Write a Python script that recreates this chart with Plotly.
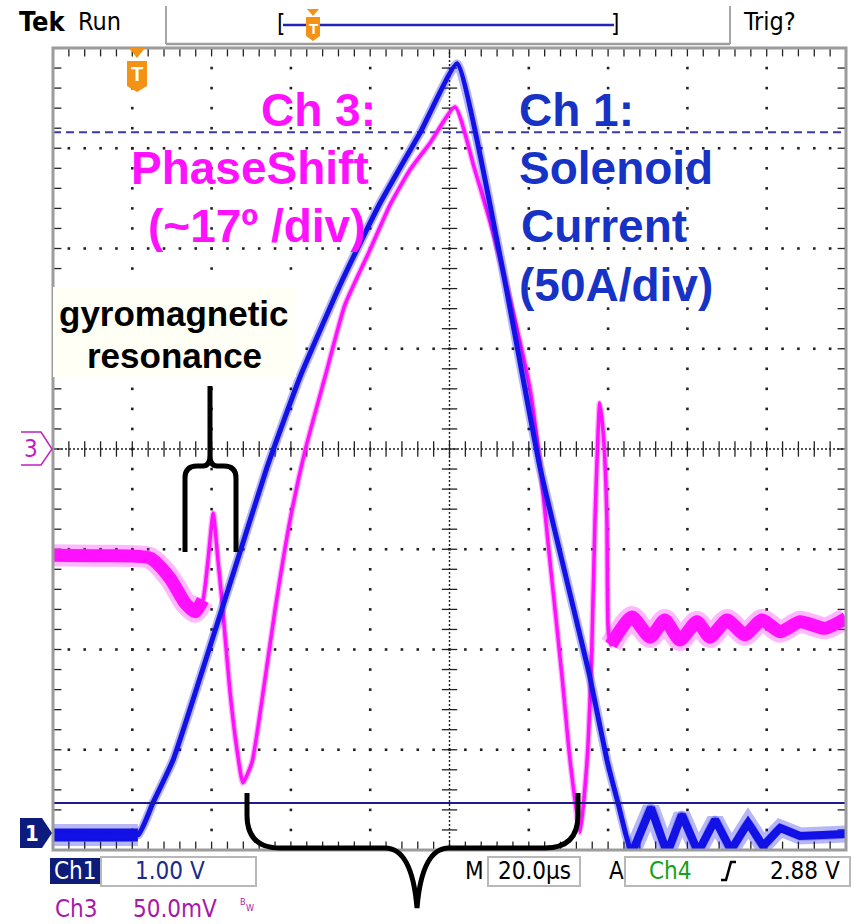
import numpy as np
import plotly.graph_objects as go

# ---------------- data ----------------
# time axis: 20 us/div, 10 divisions
ch1_time_us = [0, 21.4, 25.2, 30.3, 43.9, 54.0, 62.3, 72.4, 78.7, 82.5, 87.5, 92.6, 101.9,
               112.7, 122.8, 135.4, 139.7, 142.5, 146.0, 150.8, 154.9, 158.6, 162.7, 167.0,
               171.0, 175.3, 179.1, 183.4, 188.4, 200]
# Ch1 solenoid current, 50 A/div
ch1_current_A = [-1.5, -1.5, 14.5, 35.9, 119.2, 182.0, 226.9, 272.8, 298.7, 313.7, 331.2, 348.7,
                 383.1, 287.8, 182.0, 77.3, 35.9, 14.5, -10.5, 12.0, -10.5, 8.5, -10.0, 6.0,
                 -9.0, 4.5, -7.0, 2.0, -2.0, -1.0]

ch3_time_us = [0, 11.9, 24.5, 29.5, 33.3, 35.8, 37.8, 39.1, 40.4, 41.6, 42.6, 44.6, 46.4, 47.9,
               50.2, 52.7, 56.0, 59.8, 63.6, 68.6, 73.6, 79.9, 85.0, 90.0, 95.1, 101.4, 106.4,
               111.5, 116.5, 120.3, 122.8, 125.3, 128.4, 130.4, 132.9, 134.7, 135.9, 136.7,
               137.9, 138.9, 139.7, 140.0, 140.7, 146.0, 150.6, 154.3, 158.1, 162.4, 165.7,
               170.0, 174.5, 178.8, 183.4, 188.4, 194.7, 200]
# Ch3 phase shift, ~17 deg/div
ch3_phase_deg = [-18.0, -18.1, -18.5, -21.9, -26.1, -27.6, -25.6, -18.8, -10.9, -18.8, -25.6,
                 -40.9, -51.0, -56.6, -53.1, -42.6, -27.3, -12.0, -0.2, 12.2, 24.4, 33.7, 41.4,
                 47.3, 51.9, 58.0, 47.3, 35.4, 21.9, 10.2, -2.4, -18.8, -38.7, -52.8, -65.0,
                 -52.8, -33.6, -12.0, 7.8, 1.5, -12.0, -30.2, -33.2, -28.5, -31.9, -29.0,
                 -32.4, -29.3, -31.9, -29.0, -31.5, -29.0, -31.0, -29.3, -30.4, -28.7]

CH1_SCALE, CH1_OFFSET = 50.0, -3.82   # A/div, ground marker position (div)
CH3_SCALE, CH3_OFFSET = 17.0, 0.0     # deg/div
CH1_LEVEL_DIV = 3.16                  # dashed level line
CH1_REF_DIV = -3.53                   # solid reference line

# ---------------- geometry ----------------
W, H = 854, 924
L, R, T, B = 53, 846, 48, 850


def X(px):
    return (px - L) / (R - L)


def Y(py):
    return (B - py) / (B - T)


def pt(px, py):
    return f"{X(px):.5f},{Y(py):.5f}"


ch1_y = [a / CH1_SCALE + CH1_OFFSET for a in ch1_current_A]
ch3_y = [p / CH3_SCALE + CH3_OFFSET for p in ch3_phase_deg]

BLUE = "#1212e6"
MAG = "#ff10ff"

fig = go.Figure()

# ---------------- graticule ----------------
minor_y = np.round(np.arange(-4, 4.001, 0.2), 3)
minor_x = np.round(np.arange(0, 200.001, 4), 3)
gx, gy = [], []
for k in range(1, 10):
    if k == 5:
        continue
    for yy in minor_y:
        gx.append(20 * k); gy.append(yy)
for k in range(-3, 4):
    if k == 0:
        continue
    for xx in minor_x:
        gx.append(xx); gy.append(k)
fig.add_trace(go.Scatter(x=gx, y=gy, mode="markers", hoverinfo="skip",
                         marker=dict(size=2.6, color="#222222", symbol="square")))
# center-line ticks
fig.add_trace(go.Scatter(x=list(minor_x), y=[0] * len(minor_x), mode="markers", hoverinfo="skip",
                         marker=dict(symbol="line-ns", size=11, line=dict(width=1.3, color="#222"))))
fig.add_trace(go.Scatter(x=[100] * len(minor_y), y=list(minor_y), mode="markers", hoverinfo="skip",
                         marker=dict(symbol="line-ew", size=11, line=dict(width=1.3, color="#222"))))
# edge ticks
fig.add_trace(go.Scatter(x=[0] * len(minor_y) + [200] * len(minor_y), y=list(minor_y) * 2,
                         mode="markers", hoverinfo="skip",
                         marker=dict(symbol="line-ew", size=12, line=dict(width=1.3, color="#222"))))
fig.add_trace(go.Scatter(x=list(minor_x) * 2, y=[4] * len(minor_x) + [-4] * len(minor_x),
                         mode="markers", hoverinfo="skip",
                         marker=dict(symbol="line-ns", size=12, line=dict(width=1.3, color="#222"))))

# ---------------- waveforms ----------------
def sub(ts, ys, lo, hi):
    xs = [t for t in ts if lo <= t <= hi]
    yv = [y for t, y in zip(ts, ys) if lo <= t <= hi]
    return xs, yv

# Ch3 noise bands
for lo, hi in [(0, 37.8), (140.7, 200)]:
    xs, ys = sub(ch3_time_us, ch3_y, lo, hi)
    fig.add_trace(go.Scatter(x=xs, y=ys, mode="lines", hoverinfo="skip", opacity=0.3,
                             line=dict(color=MAG, width=22, shape="spline", smoothing=0.6)))
    fig.add_trace(go.Scatter(x=xs, y=ys, mode="lines", hoverinfo="skip",
                             line=dict(color=MAG, width=13, shape="spline", smoothing=0.6)))
fig.add_trace(go.Scatter(x=ch3_time_us, y=ch3_y, mode="lines", hoverinfo="skip", opacity=0.35,
                         line=dict(color=MAG, width=6, shape="spline", smoothing=0.5)))
fig.add_trace(go.Scatter(x=ch3_time_us, y=ch3_y, mode="lines", hoverinfo="skip",
                         line=dict(color=MAG, width=3.5, shape="spline", smoothing=0.5)))

# Ch1 noise bands
for lo, hi, w in [(0, 21.4, 13), (146.0, 200, 8)]:
    xs, ys = sub(ch1_time_us, ch1_y, lo, hi)
    fig.add_trace(go.Scatter(x=xs, y=ys, mode="lines", hoverinfo="skip", opacity=0.3,
                             line=dict(color=BLUE, width=w + 9)))
    fig.add_trace(go.Scatter(x=xs, y=ys, mode="lines", hoverinfo="skip",
                             line=dict(color=BLUE, width=w)))
fig.add_trace(go.Scatter(x=ch1_time_us, y=ch1_y, mode="lines", hoverinfo="skip", opacity=0.3,
                         line=dict(color=BLUE, width=9, shape="spline", smoothing=0.4)))
fig.add_trace(go.Scatter(x=ch1_time_us, y=ch1_y, mode="lines", hoverinfo="skip",
                         line=dict(color=BLUE, width=5, shape="spline", smoothing=0.4)))

shapes = []
# center dotted lines
shapes.append(dict(type="line", xref="x", yref="y", x0=0, x1=200, y0=0, y1=0, layer="below",
                   line=dict(color="#222", width=1.4, dash="2px,2px")))
shapes.append(dict(type="line", xref="x", yref="y", x0=100, x1=100, y0=-4, y1=4, layer="below",
                   line=dict(color="#222", width=1.4, dash="2px,2px")))
# trigger level dashed line and reference line
shapes.append(dict(type="line", xref="x", yref="y", x0=0, x1=200, y0=CH1_LEVEL_DIV, y1=CH1_LEVEL_DIV,
                   layer="below", line=dict(color="#3a3aa8", width=2, dash="8px,5px")))
shapes.append(dict(type="line", xref="x", yref="y", x0=0, x1=200, y0=CH1_REF_DIV, y1=CH1_REF_DIV,
                   layer="above", line=dict(color="#1c1c8c", width=2)))
# border
shapes.append(dict(type="rect", xref="paper", yref="paper", x0=0, x1=1, y0=0, y1=1, layer="above",
                   line=dict(color="#9c9c9c", width=3)))

# gyromagnetic label box
shapes.append(dict(type="rect", xref="paper", yref="paper", x0=X(53), x1=X(296), y0=Y(377), y1=Y(287),
                   layer="above", fillcolor="#fffff6", line=dict(width=0)))

# braces
gyro_path = (f"M{pt(185,552)} L{pt(185,478)} Q{pt(185,466)} {pt(197,466)} L{pt(203,466)} "
             f"Q{pt(210,466)} {pt(210,455)} L{pt(210,386)} "
             f"M{pt(236,552)} L{pt(236,478)} Q{pt(236,466)} {pt(224,466)} L{pt(217,466)} "
             f"Q{pt(210,466)} {pt(210,455)}")
shapes.append(dict(type="path", xref="paper", yref="paper", path=gyro_path, layer="above",
                   line=dict(color="black", width=5)))
big_path = (f"M{pt(247,793)} L{pt(247,815)} Q{pt(247,848)} {pt(280,848)} L{pt(385,848)} "
            f"Q{pt(412,848)} {pt(417,908)} Q{pt(422,848)} {pt(449,848)} L{pt(545,848)} "
            f"Q{pt(578,848)} {pt(578,815)} L{pt(578,793)}")
shapes.append(dict(type="path", xref="paper", yref="paper", path=big_path, layer="above",
                   line=dict(color="black", width=5)))

ORANGE = "#f39214"
# trigger marker inside plot
shapes.append(dict(type="path", xref="paper", yref="paper", layer="above",
                   path=f"M{pt(129,48)} L{pt(145,48)} L{pt(137,58)} Z", fillcolor=ORANGE,
                   line=dict(width=0)))
shapes.append(dict(type="path", xref="paper", yref="paper", layer="above",
                   path=f"M{pt(127,61)} L{pt(147,61)} L{pt(147,86)} L{pt(137,92)} L{pt(127,86)} Z",
                   fillcolor=ORANGE, line=dict(width=0)))
# top bar marker
shapes.append(dict(type="path", xref="paper", yref="paper", layer="above",
                   path=f"M{pt(307,9)} L{pt(319,9)} L{pt(313,16)} Z", fillcolor=ORANGE,
                   line=dict(width=0)))
shapes.append(dict(type="path", xref="paper", yref="paper", layer="above",
                   path=f"M{pt(306,17)} L{pt(320,17)} L{pt(320,36)} L{pt(313,41)} L{pt(306,36)} Z",
                   fillcolor=ORANGE, line=dict(width=0)))
# top bar lines
shapes.append(dict(type="line", xref="paper", yref="paper", x0=X(166), x1=X(166), y0=Y(6), y1=Y(44),
                   line=dict(color="#8a8a8a", width=1.5)))
shapes.append(dict(type="line", xref="paper", yref="paper", x0=X(730), x1=X(730), y0=Y(6), y1=Y(44),
                   line=dict(color="#8a8a8a", width=1.5)))
shapes.append(dict(type="line", xref="paper", yref="paper", x0=X(166), x1=X(730), y0=Y(44), y1=Y(44),
                   line=dict(color="#9c9c9c", width=2.5)))
shapes.append(dict(type="line", xref="paper", yref="paper", x0=X(283), x1=X(614), y0=Y(25), y1=Y(25),
                   layer="below", line=dict(color="#2424b4", width=2.5)))

# channel markers on left
shapes.append(dict(type="path", xref="paper", yref="paper",
                   path=f"M{pt(21,432)} L{pt(41,432)} L{pt(52,449)} L{pt(41,465)} L{pt(21,465)}",
                   line=dict(color="#c020c0", width=1.5)))
shapes.append(dict(type="path", xref="paper", yref="paper",
                   path=f"M{pt(20,818)} L{pt(42,818)} L{pt(52,833)} L{pt(42,848)} L{pt(20,848)} Z",
                   fillcolor="#0c1c7e", line=dict(width=0)))

# bottom bar boxes
NAVY = "#0c1c78"
shapes.append(dict(type="rect", xref="paper", yref="paper", x0=X(50), x1=X(100), y0=Y(884), y1=Y(858),
                   fillcolor=NAVY, line=dict(width=0)))
for x0, x1 in [(101, 256), (488, 580), (625, 850)]:
    shapes.append(dict(type="rect", xref="paper", yref="paper", x0=X(x0), x1=X(x1), y0=Y(886), y1=Y(857),
                       line=dict(color="#b8b8b8", width=2)))
# rising-edge symbol
shapes.append(dict(type="path", xref="paper", yref="paper",
                   path=f"M{pt(721,880)} L{pt(726,880)} L{pt(731,862)} L{pt(736,862)}",
                   line=dict(color="black", width=2.5)))

# ---------------- text ----------------
ann = []
ARIAL = "Liberation Sans, Arial, sans-serif"
NARROW = "Liberation Sans Narrow, Arial Narrow, DejaVu Sans Condensed, Liberation Sans, sans-serif"


def txt(text, px, py, size, color, family=ARIAL, xanchor="center", yanchor="middle"):
    ann.append(dict(text=text, x=X(px), y=Y(py), xref="paper", yref="paper", showarrow=False,
                    xanchor=xanchor, yanchor=yanchor, font=dict(size=size, color=color, family=family),
                    borderpad=0))


CH1_TXT = "#1733c6"
txt("<b>Ch 1:</b>", 518, 110, 46, CH1_TXT, xanchor="left")
txt("<b>Solenoid</b>", 518, 168, 46, CH1_TXT, xanchor="left")
txt("<b>Current</b>", 520, 226, 46, CH1_TXT, xanchor="left")
txt("<b>(50A/div)</b>", 518, 285, 46, CH1_TXT, xanchor="left")

txt("<b>Ch 3:</b>", 377, 110, 46, MAG, xanchor="right")
txt("<b>PhaseShift</b>", 370, 168, 46, MAG, xanchor="right")
txt("<b>(~17º /div)</b>", 367, 226, 46, MAG, xanchor="right")

txt("<b>gyromagnetic</b>", 174, 313, 35, "black")
txt("<b>resonance</b>", 174, 355, 35, "black")

# top bar
txt("<b>Tek</b>", 42, 22, 27, "black", family=NARROW)
txt("Run", 99, 22, 25, "black", family=NARROW)
txt("[", 281, 24, 24, "black", family=NARROW)
txt("]", 615, 24, 24, "black", family=NARROW)
txt("Trig?", 769, 22, 25, "black", family=NARROW)
txt("<b>T</b>", 313, 28, 15, "white")
txt("<b>T</b>", 137, 74, 20, "white")

# channel marker labels
txt("3", 31, 449, 24, "#c020c0", family=NARROW)
txt("<b>1</b>", 32, 833, 22, "white", family=NARROW)

# bottom bar
CH3_TXT = "#a818a8"
txt("Ch1", 75, 871, 24, "white", family=NARROW)
txt("1.00 V", 170, 871, 24, "#1c2a8c", family=NARROW)
txt("Ch3", 76, 909, 24, CH3_TXT, family=NARROW)
txt("50.0mV", 175, 909, 24, CH3_TXT, family=NARROW)
txt("B", 243, 902, 9, CH3_TXT, family=NARROW)
txt("W", 250, 908, 9, CH3_TXT, family=NARROW)
txt("M", 474, 871, 24, "black", family=NARROW)
txt("20.0µs", 534, 871, 24, "black", family=NARROW)
txt("A", 616, 871, 24, "black", family=NARROW)
txt("Ch4", 670, 871, 24, "#18a018", family=NARROW)
txt("2.88 V", 805, 871, 24, "black", family=NARROW)

fig.update_layout(
    width=W, height=H,
    margin=dict(l=L, r=W - R, t=T, b=H - B, pad=0),
    paper_bgcolor="white", plot_bgcolor="white",
    showlegend=False,
    xaxis=dict(range=[0, 200], visible=False, fixedrange=True),
    yaxis=dict(range=[-4, 4], visible=False, fixedrange=True),
    shapes=shapes, annotations=ann,
)

fig.write_html("out.html", config={"displayModeBar": False, "staticPlot": True},
               post_script="document.body.style.margin='0';document.body.style.overflow='hidden';")
